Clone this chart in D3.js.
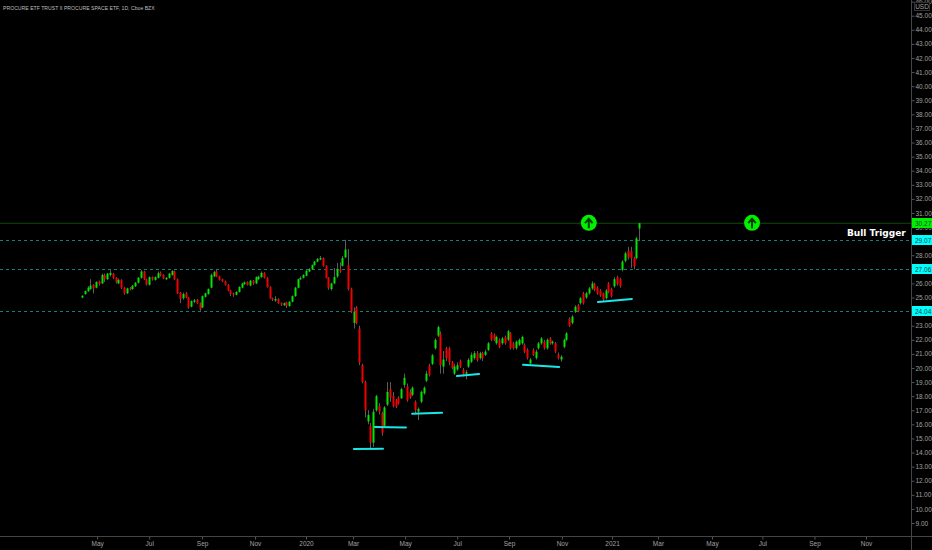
<!DOCTYPE html>
<html><head><meta charset="utf-8">
<script src="https://cdn.jsdelivr.net/npm/d3@7"></script>
<style>html,body{margin:0;padding:0;background:#000}svg{display:block}</style>
</head><body><svg id="c" width="932" height="550"></svg>
<script>
const title = "PROCURE ETF TRUST II PROCURE SPACE ETF, 1D, Cboe BZX";
const opens = [
25.0,25.25,25.45,25.6,25.9,25.7,26.15,26.0,26.6,26.3,
26.6,26.7,26.4,26.0,26.25,25.7,25.3,25.7,25.6,25.8,
26.05,26.4,26.85,26.3,25.9,26.45,26.25,26.4,26.75,26.6,
26.3,26.4,26.6,26.85,26.3,25.35,24.95,25.3,25.0,24.35,
24.7,24.85,24.6,24.3,25.05,25.25,25.7,26.5,26.85,26.5,
26.3,26.15,25.9,25.5,25.3,25.2,25.4,25.7,25.95,26.1,
25.85,26.2,26.0,26.3,26.45,26.75,26.4,25.75,24.95,24.8,
24.9,24.6,24.45,24.65,24.4,24.7,25.1,25.7,26.3,26.4,
26.55,26.85,27.0,27.3,27.55,27.7,27.8,27.25,26.4,25.6,
26.0,26.5,27.0,27.25,27.85,27.3,
25.6,23.2,24.3,22.8,20.2,19.0,16.2,15.9,14.7,17.0,
17.3,16.8,15.9,17.4,18.5,18.0,17.7,17.9,17.85,18.8,
18.7,18.3,18.1,17.6,16.9,17.6,18.2,19.1,20.15,20.3,
21.4,22.3,22.4,20.1,21.4,21.4,20.4,19.6,19.9,20.5,
19.86,19.6,20.1,20.45,20.7,21.05,20.7,21.05,20.93,21.28,
22.46,22.35,21.75,22.0,21.75,22.2,22.0,22.46,21.75,21.4,
21.65,21.75,21.65,21.28,20.33,21.28,20.7,21.4,21.75,21.87,
21.4,22.1,21.75,21.75,20.95,20.6,21.5,22.0,23.5,23.2,
24.0,24.45,24.6,25.3,25.0,25.3,25.65,25.95,25.7,25.5,
25.3,24.95,26.0,25.6,25.8,26.45,26.3,26.96,27.6,28.3,
28.3,27.8,27.8,29.9];
const closes = [
25.13,25.46,25.7,25.85,25.65,26.1,25.95,26.6,26.3,26.7,
26.75,26.4,26.1,26.25,25.7,25.3,25.65,25.6,25.84,26.05,
26.4,26.85,26.3,25.94,26.45,26.3,26.45,26.72,26.6,26.36,
26.4,26.7,26.88,26.3,25.3,24.9,25.25,25.0,24.3,24.75,
24.8,24.6,24.15,25.1,25.3,25.6,26.6,26.8,26.5,26.25,
26.15,25.9,25.5,25.25,25.2,25.4,25.75,26.0,26.08,25.9,
26.2,26.0,26.45,26.48,26.75,26.4,25.75,24.95,24.85,24.9,
24.6,24.5,24.6,24.42,24.7,25.1,25.7,26.3,26.4,26.6,
26.9,27.0,27.3,27.55,27.74,27.8,27.25,26.4,25.65,26.0,
26.45,27.0,26.85,27.8,28.4,25.6,
24.0,24.0,23.2,20.4,19.0,17.0,16.67,14.7,16.9,18.0,
16.9,15.4,17.2,18.3,17.9,17.3,17.25,17.5,18.5,19.3,
17.7,17.9,18.6,17.0,17.1,18.3,18.6,19.6,19.5,20.9,
22.0,22.9,20.2,20.6,20.7,20.4,20.0,20.1,20.2,20.1,
19.55,19.7,20.57,20.93,21.05,20.57,21.05,20.7,21.16,21.75,
22.0,22.0,22.2,21.5,22.1,21.75,22.6,21.4,21.4,21.87,
22.0,22.2,21.16,20.7,20.6,20.93,21.16,21.75,22.1,21.4,
22.0,21.75,21.87,21.16,20.7,20.8,22.0,22.46,23.0,23.65,
24.35,24.05,24.95,24.6,25.3,25.65,26.0,25.55,25.3,25.15,
24.85,25.5,25.4,25.1,26.3,25.95,25.8,27.55,28.14,27.85,
27.8,27.2,29.2,30.27];
const highs = [
25.15,25.5,25.8,26.3,25.95,26.15,26.2,26.7,26.7,26.75,
26.95,26.75,26.45,26.35,26.3,25.75,25.7,25.75,25.9,26.1,
26.45,26.95,26.9,26.35,26.5,26.5,26.5,26.85,26.85,26.65,
26.45,26.75,26.95,26.9,26.35,25.4,25.35,25.4,25.05,24.8,
24.9,24.9,24.65,25.15,25.35,25.65,26.7,26.9,26.95,26.55,
26.35,26.2,25.95,25.55,25.35,25.45,25.8,26.05,26.15,26.15,
26.25,26.25,26.5,26.55,26.85,26.8,26.45,25.8,25.0,25.1,
24.95,24.65,24.65,24.7,24.75,25.15,25.75,26.35,26.5,26.65,
26.95,27.1,27.35,27.6,27.8,27.95,27.85,27.3,26.45,26.05,
27.1,27.45,27.5,27.95,29.1,28.45,
25.7,24.3,24.4,23.0,20.3,19.1,17.0,16.1,17.1,18.1,
17.5,16.9,17.3,19.0,19.0,18.3,17.8,18.0,18.6,19.6,
18.9,18.5,18.7,17.7,17.2,18.4,18.7,19.8,20.3,21.0,
22.1,23.0,22.6,21.2,21.5,21.5,20.5,20.3,20.4,20.6,
20.0,19.85,20.7,21.1,21.2,21.2,21.15,21.15,21.3,21.85,
22.55,22.45,22.3,22.1,22.2,22.3,22.7,22.55,21.85,21.95,
22.1,22.3,21.75,21.4,20.7,21.4,21.3,21.85,22.2,22.0,
22.1,22.2,21.95,21.85,21.1,20.9,22.1,22.55,23.6,23.75,
24.45,24.55,25.05,25.4,25.4,25.75,26.15,26.05,25.8,25.6,
25.35,25.6,26.1,25.7,26.45,26.55,26.4,27.65,28.25,28.6,
28.6,27.9,29.3,30.3];
const lows = [
24.95,25.2,25.4,25.55,25.3,25.65,25.85,25.95,26.1,26.25,
26.5,26.3,26.0,25.95,25.6,25.2,25.25,25.5,25.55,25.75,
26.0,26.35,26.25,25.85,25.85,26.2,26.2,26.35,26.5,26.3,
26.25,26.35,26.55,26.25,25.25,24.6,24.85,24.95,24.2,24.3,
24.6,24.55,24.05,24.25,25.0,25.2,25.65,26.45,26.45,26.2,
26.1,25.85,25.45,25.1,25.05,25.15,25.35,25.65,25.9,25.85,
25.8,25.9,25.95,26.25,26.4,26.35,25.7,24.9,24.75,24.7,
24.55,24.4,24.4,24.25,24.35,24.65,25.05,25.65,26.25,26.35,
26.5,26.8,26.95,27.25,27.5,27.65,27.2,26.35,25.55,25.5,
25.95,26.4,26.75,27.2,27.8,25.5,
23.9,22.8,23.1,20.2,18.9,16.5,16.0,14.3,14.4,16.9,
16.7,15.2,15.8,17.3,17.6,17.2,17.15,17.4,17.8,18.6,
17.6,17.8,18.0,16.8,16.3,17.5,18.1,19.0,19.4,20.2,
21.3,22.2,19.6,19.6,20.5,20.2,19.9,19.5,19.8,20.0,
19.4,19.2,20.0,20.35,20.6,20.45,20.6,20.5,20.85,21.2,
21.9,21.9,21.65,21.4,21.65,21.65,21.9,21.3,21.3,21.3,
21.55,21.65,21.05,20.6,20.2,20.85,20.6,21.3,21.65,21.3,
21.3,21.65,21.65,21.05,20.6,20.45,21.4,21.9,22.9,23.1,
23.9,23.95,24.5,24.5,24.9,25.2,25.55,25.45,25.2,25.05,
24.7,24.85,25.3,25.0,25.7,25.85,25.7,26.85,27.5,27.7,
27.1,27.0,27.7,29.0];

const priceTicks = [9,10,11,12,13,14,15,16,17,18,19,20,21,22,23,24,25,26,27,28,29,30,31,32,33,34,35,36,37,38,39,40,41,42,43,44,45,46];
const timeTickBars = [5.4,24,42.9,61.8,80,96.8,115.4,134,152.5,171.4,189.3,205.7,225,243,261.6,280];
const timeTickLabels = ["May","Jul","Sep","Nov","2020","Mar","May","Jul","Sep","Nov","2021","Mar","May","Jul","Sep","Nov"];
const levelValues = [29.07,27.06,24.04];
const lastPrice = 30.27;
const supportStartBar = [97.1,104.6,117.9,133.9,157.5,184.3];
const supportEndBar = [107.5,115.7,128.6,141.8,170.4,196.4];
const supportStartPrice = [14.25,15.81,16.76,19.43,20.23,24.68];
const supportEndPrice = [14.27,15.78,16.83,19.57,20.07,24.9];
const arrowBars = [181,239.3];
const arrowPrice = 30.3;

const svg = d3.select("#c");
const font = "'Liberation Sans',Arial,sans-serif";
svg.append("rect").attr("width",932).attr("height",550).attr("fill","#000");

const x = d3.scaleLinear().domain([0,199]).range([82,639.2]);
const y = d3.scaleLinear().domain([9,45]).range([523,15.7]);
const axisX = 911, axisY = 536.5;

svg.append("line").attr("x1",0).attr("x2",axisX).attr("y1",y(lastPrice)).attr("y2",y(lastPrice))
  .attr("stroke","#0b4a0b").attr("stroke-width",1);
svg.selectAll(".lvl").data(levelValues).join("line").attr("class","lvl")
  .attr("x1",0).attr("x2",axisX).attr("y1",d=>Math.round(y(d))+0.5).attr("y2",d=>Math.round(y(d))+0.5)
  .attr("stroke","#0e7f7f").attr("stroke-width",1).attr("stroke-dasharray","3 3");

const bars = d3.range(closes.length);
const col = i => closes[i] >= opens[i] ? "#00e600" : "#f00000";
svg.append("g").selectAll("line").data(bars).join("line")
  .attr("x1",i=>Math.round(x(i))+0.5).attr("x2",i=>Math.round(x(i))+0.5)
  .attr("y1",i=>y(highs[i])).attr("y2",i=>y(lows[i]))
  .attr("stroke","#5c5c5c").attr("stroke-width",1);
svg.append("g").selectAll("rect").data(bars).join("rect")
  .attr("x",i=>Math.round(x(i))-0.5).attr("width",2)
  .attr("y",i=>y(Math.max(opens[i],closes[i])))
  .attr("height",i=>Math.max(1.5,Math.abs(y(opens[i])-y(closes[i]))))
  .attr("fill",i=>col(i));

svg.append("g").selectAll("line").data(supportStartBar).join("line")
  .attr("x1",(d,i)=>x(d)).attr("x2",(d,i)=>x(supportEndBar[i]))
  .attr("y1",(d,i)=>y(supportStartPrice[i])).attr("y2",(d,i)=>y(supportEndPrice[i]))
  .attr("stroke","#19e6e6").attr("stroke-width",2).attr("stroke-linecap","round");

const ag = svg.append("g").selectAll("g").data(arrowBars).join("g")
  .attr("transform",d=>`translate(${x(d)},${y(arrowPrice)})`);
ag.append("circle").attr("r",8).attr("fill","#00f000");
ag.append("path").attr("d","M0,5.5V-3M-3.8,0.3L0,-4L3.8,0.3").attr("fill","none")
  .attr("stroke","#063a06").attr("stroke-width",2);

const yAxis = d3.axisRight(y).tickValues(priceTicks).tickSize(3).tickPadding(1).tickFormat(d3.format(".2f"));
const gy = svg.append("g").attr("transform",`translate(${axisX+0.5},0)`).call(yAxis);
const xAxis = d3.axisBottom(x).tickValues(timeTickBars).tickSize(3).tickPadding(2).tickFormat((d,i)=>timeTickLabels[i]);
const gx = svg.append("g").attr("transform",`translate(0,${axisY})`).call(xAxis);
[gy,gx].forEach(g=>{
  g.selectAll("text").attr("fill","#a0a0a0").attr("font-family",font).attr("font-size",6.5);
  g.selectAll(".tick line").attr("stroke","#555");
  g.select(".domain").remove();
});
svg.append("line").attr("x1",axisX+0.5).attr("x2",axisX+0.5).attr("y1",0).attr("y2",550).attr("stroke","#444");
svg.append("line").attr("x1",0).attr("x2",932).attr("y1",axisY).attr("y2",axisY).attr("stroke","#444");

svg.append("rect").attr("x",914.5).attr("y",2.5).attr("width",15).attr("height",8).attr("fill","#000").attr("stroke","#333");
svg.append("text").attr("x",922).attr("y",9).attr("text-anchor","middle").attr("fill","#a0a0a0")
  .attr("font-family",font).attr("font-size",6.5).text("USD");

function tag(p,fill){
  const yy = Math.round(y(p));
  svg.append("rect").attr("x",axisX+1).attr("y",yy-5).attr("width",21).attr("height",10).attr("fill",fill);
  svg.append("text").attr("x",915).attr("y",yy+2.5).attr("fill","#124040").attr("font-family",font)
    .attr("font-size",6.5).text(p.toFixed(2));
}
tag(lastPrice,"#00f000");
levelValues.forEach(v=>tag(v,"#00ffff"));

svg.append("text").attr("x",3).attr("y",9.5).attr("fill","#bdbdbd").attr("font-family",font)
  .attr("font-size",5.15).text(title);
svg.append("text").attr("x",847).attr("y",236).attr("fill","#fff").attr("font-family","'DejaVu Sans',sans-serif")
  .attr("font-weight","bold").attr("font-size",9).text("Bull Trigger");
</script></body></html>
